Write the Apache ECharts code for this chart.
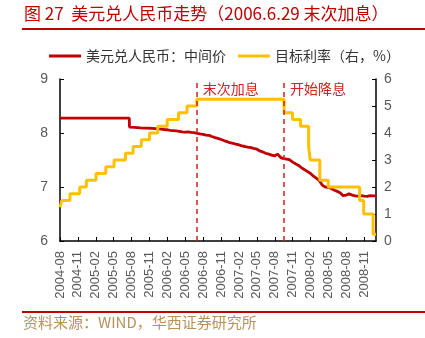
<!DOCTYPE html>
<html><head><meta charset="utf-8">
<script src="https://cdn.jsdelivr.net/npm/echarts@6/dist/echarts.min.js"></script>
<style>html,body{margin:0;padding:0;background:#fff}#c{width:425px;height:338px}</style>
</head><body><div id="c"></div>
<script>
// ---- data ----
const titleText = '图 27  美元兑人民币走势（2006.6.29 末次加息）';
const sourceText = '资料来源：WIND，华西证券研究所';
const seriesNames = ['美元兑人民币：中间价', '目标利率（右，%）'];
const cnyDates = ['2004-08-02','2005-07-20','2005-07-21','2005-08-15','2005-09-01','2005-09-15','2005-10-01','2005-10-15','2005-11-01','2005-11-15','2005-12-01','2005-12-15','2006-01-01','2006-01-15','2006-02-01','2006-02-15','2006-03-01','2006-03-15','2006-04-01','2006-04-15','2006-05-01','2006-05-15','2006-06-01','2006-06-15','2006-07-01','2006-07-15','2006-08-01','2006-08-15','2006-09-01','2006-09-15','2006-10-01','2006-10-15','2006-11-01','2006-11-15','2006-12-01','2006-12-15','2007-01-01','2007-01-15','2007-02-01','2007-02-15','2007-03-01','2007-03-15','2007-04-01','2007-04-15','2007-05-01','2007-05-15','2007-06-01','2007-06-15','2007-07-01','2007-07-15','2007-08-01','2007-08-15','2007-09-01','2007-09-15','2007-10-01','2007-10-15','2007-11-01','2007-11-15','2007-12-01','2007-12-15','2008-01-01','2008-01-15','2008-02-01','2008-02-15','2008-03-01','2008-03-15','2008-04-01','2008-04-15','2008-05-01','2008-05-15','2008-06-01','2008-06-15','2008-07-01','2008-07-15','2008-08-01','2008-08-15','2008-09-01','2008-09-15','2008-10-01','2008-10-15','2008-11-01','2008-11-15','2008-12-01','2008-12-15','2008-12-31'];
const cnyValues = [8.2766,8.2765,8.1100,8.1050,8.1000,8.0950,8.0920,8.0900,8.0880,8.0850,8.0800,8.0750,8.0700,8.0650,8.0600,8.0500,8.0450,8.0400,8.0300,8.0200,8.0150,8.0200,8.0100,8.0050,7.9950,7.9850,7.9750,7.9600,7.9550,7.9350,7.9150,7.9000,7.8800,7.8600,7.8400,7.8200,7.8100,7.7950,7.7800,7.7600,7.7500,7.7400,7.7300,7.7150,7.7000,7.6700,7.6500,7.6250,7.6100,7.5900,7.5750,7.6100,7.5450,7.5250,7.5150,7.5050,7.4600,7.4300,7.4000,7.3600,7.3200,7.2900,7.2500,7.2000,7.1600,7.1200,7.0300,7.0000,6.9950,6.9700,6.9400,6.9200,6.8900,6.8400,6.8500,6.8750,6.8500,6.8350,6.8300,6.8400,6.8300,6.8250,6.8400,6.8350,6.8340];
const fedDates = ['2004-08-01','2004-08-10','2004-09-21','2004-11-10','2004-12-14','2005-02-02','2005-03-22','2005-05-03','2005-06-30','2005-08-09','2005-09-20','2005-11-01','2005-12-13','2006-01-31','2006-03-28','2006-05-10','2006-06-29','2007-09-18','2007-10-31','2007-12-11','2008-01-22','2008-01-30','2008-03-18','2008-04-30','2008-10-08','2008-10-29','2008-12-16','2008-12-31'];
const fedRates = [1.25,1.50,1.75,2.00,2.25,2.50,2.75,3.00,3.25,3.50,3.75,4.00,4.25,4.50,4.75,5.00,5.25,4.75,4.50,4.25,3.50,3.00,2.25,2.00,1.50,1.00,0.25,0.25];
const eventDates = ['2006-06-29','2007-09-18'];
const eventLabels = ['末次加息','开始降息'];
const axisStart = '2004-08-01';
const axisEnd = '2008-12-31';

// ---- helpers: date -> month index from axis start ----
function monthIdx(s){
  const [y,m,d]=s.split('-').map(Number);
  const dim = new Date(y,m,0).getDate();
  return (y-2004)*12 + (m-8) + (d-1)/dim;
}
function idxLabel(v){
  const t = Math.round(v);
  const y = 2004 + Math.floor((t+7)/12);
  const m = ((t+7)%12)+1;
  return y + '-' + (m<10?'0':'') + m;
}
const RED='#C00000', YEL='#FFC000';
const chart = echarts.init(document.getElementById('c'));
const option = {
  animation:false,
  textStyle:{fontFamily:'"Liberation Sans","Noto Sans CJK SC",sans-serif'},
  grid:{left:60,right:49,top:79,bottom:97},
  legend:{
    top:44,left:44,itemWidth:32,itemHeight:3,itemGap:12,icon:'rect',
    textStyle:{fontSize:14,color:'#333',fontFamily:'"Noto Sans CJK SC",sans-serif'},
    data:seriesNames
  },
  xAxis:{
    type:'value',min:monthIdx(axisStart),max:monthIdx(axisEnd),interval:3,
    axisLine:{lineStyle:{color:'#000',width:1.5}},
    axisTick:{inside:true,length:4,lineStyle:{color:'#000'}},
    splitLine:{show:false},
    axisLabel:{rotate:90,fontSize:13,color:'#595959',margin:10,showMaxLabel:false,formatter:idxLabel}
  },
  yAxis:[
    {type:'value',min:6,max:9,interval:1,position:'left',
     axisLine:{show:true,lineStyle:{color:'#000',width:1.5}},
     axisTick:{show:true,inside:true,length:4,lineStyle:{color:'#000'}},
     splitLine:{show:false},
     axisLabel:{fontSize:14,color:'#595959',margin:12}},
    {type:'value',min:0,max:6,interval:1,position:'right',
     axisLine:{show:true,lineStyle:{color:'#000',width:1.5}},
     axisTick:{show:true,inside:true,length:4,lineStyle:{color:'#000'}},
     splitLine:{show:false},
     axisLabel:{fontSize:14,color:'#595959',margin:8}}
  ],
  series:[
    {name:seriesNames[0],type:'line',yAxisIndex:0,showSymbol:false,symbol:'none',
     color:RED,lineStyle:{width:2.8,color:RED},
     data:cnyDates.map((d,i)=>[monthIdx(d),cnyValues[i]]),
     markLine:{silent:true,symbol:'none',label:{show:false},
       lineStyle:{type:[5,4],color:'#D42020',width:1.5},
       data:eventDates.map(d=>({xAxis:monthIdx(d)}))}
    },
    {name:seriesNames[1],type:'line',yAxisIndex:1,showSymbol:false,symbol:'none',step:'end',
     color:YEL,lineStyle:{width:3,color:YEL},
     data:fedDates.map((d,i)=>[monthIdx(d),fedRates[i]])}
  ]
};
chart.setOption(option);
const gfx=[
  {type:'text',left:24,top:5,style:{text:titleText,fill:RED,font:'17px "Noto Sans CJK SC"'}},
  {type:'rect',shape:{x:22,y:28,width:403,height:2},style:{fill:RED}},
  {type:'rect',shape:{x:22,y:311,width:403,height:2},style:{fill:RED}},
  {type:'text',left:23,top:315,style:{text:sourceText,fill:'#B8925A',font:'15px "Noto Sans CJK SC"'}}
];
eventDates.forEach((d,i)=>{
  const p=chart.convertToPixel({xAxisIndex:0,yAxisIndex:0},[monthIdx(d),9]);
  gfx.push({type:'text',x:p[0]+6,y:p[1]+3,style:{text:eventLabels[i],fill:'#D42020',font:'14px "Noto Sans CJK SC"'}});
});
chart.setOption({graphic:gfx});
</script></body></html>
